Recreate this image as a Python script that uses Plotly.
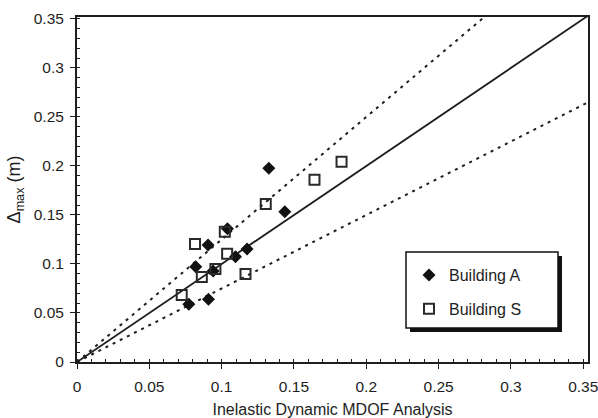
import plotly.graph_objects as go

# ---- data ----
a_x = [0.1326, 0.1437, 0.1040, 0.0906, 0.1176, 0.1096, 0.0821, 0.0941, 0.0909, 0.0773]
a_y = [0.1977, 0.1534, 0.1360, 0.1194, 0.1153, 0.1075, 0.0973, 0.0929, 0.0640, 0.0589]
s_x = [0.1829, 0.1642, 0.1305, 0.1022, 0.0816, 0.1038, 0.0957, 0.0863, 0.1165, 0.0724]
s_y = [0.2044, 0.1860, 0.1612, 0.1330, 0.1204, 0.1105, 0.0949, 0.0867, 0.0898, 0.0684]
series_names = ["Building A", "Building S"]

# reference lines: equality and +/-25 %
line_x = [0.0, 0.36]
ratio_mid, ratio_hi, ratio_lo = 1.0, 1.25, 0.75

x_ticks = [0, 0.05, 0.1, 0.15, 0.2, 0.25, 0.3, 0.35]
x_tick_text = ["0", "0.05", "0.1", "0.15", "0.2", "0.25", "0.3", "0.35"]
y_ticks = x_ticks
y_tick_text = x_tick_text

W, H = 598, 418
# plot frame in page pixels: left 77, right 588, top 17, bottom 362
ML, MT = 77, 17
MR, MB = W - 588, H - 362
PW, PH = W - ML - MR, H - MT - MB

def px_x(p):  # page pixel -> paper
    return (p - ML) / PW

def px_y(p):
    return (H - MB - p) / PH

FONT = "Liberation Sans, Arial, sans-serif"
INK = "#1e1e1e"

fig = go.Figure()

fig.add_trace(go.Scatter(x=line_x, y=[v * ratio_mid for v in line_x], mode="lines",
                         line=dict(color=INK, width=1.8), showlegend=False, hoverinfo="skip"))
fig.add_trace(go.Scatter(x=line_x, y=[v * ratio_hi for v in line_x], mode="lines",
                         line=dict(color=INK, width=2, dash="3px,5px"), showlegend=False, hoverinfo="skip"))
fig.add_trace(go.Scatter(x=line_x, y=[v * ratio_lo for v in line_x], mode="lines",
                         line=dict(color=INK, width=2, dash="3px,5px"), showlegend=False, hoverinfo="skip"))

fig.add_trace(go.Scatter(x=a_x, y=a_y, mode="markers", name=series_names[0], legendgroup="a",
                         marker=dict(symbol="diamond", size=10, color="#111111",
                                     line=dict(width=0))))
fig.add_trace(go.Scatter(x=s_x, y=s_y, mode="markers", name=series_names[1], legendgroup="s",
                         marker=dict(symbol="square-open", size=10, color="#2a2a2a",
                                     line=dict(width=2))))

# legend box with drop shadow
fig.add_shape(type="rect", xref="paper", yref="paper",
              x0=px_x(410), x1=px_x(562), y0=px_y(332), y1=px_y(256),
              fillcolor="#111111", line=dict(width=0), layer="above")
fig.add_shape(type="rect", xref="paper", yref="paper",
              x0=px_x(406), x1=px_x(558), y0=px_y(328), y1=px_y(252),
              fillcolor="white", line=dict(color="#111111", width=1.5), layer="above")

axis_common = dict(
    automargin=False,
    showgrid=False, zeroline=False, showline=True, linecolor=INK, linewidth=2,
    mirror=True, ticks="outside", ticklen=5, tickwidth=1.2, tickcolor=INK,
    tickfont=dict(family=FONT, size=15.5, color=INK),
    ticklabeloverflow="allow",
    minor=dict(dtick=0.01, ticks="inside", ticklen=3, tickwidth=1, tickcolor=INK, showgrid=False),
)

fig.update_xaxes(range=[0, 0.3533], tickvals=x_ticks, ticktext=x_tick_text,
                 ticklabelstandoff=4,
                 title=dict(text="Inelastic Dynamic MDOF Analysis",
                            font=dict(family=FONT, size=16, color=INK), standoff=11),
                 **axis_common)
fig.update_yaxes(range=[0, 0.352], tickvals=y_ticks, ticktext=y_tick_text,
                 ticklabelstandoff=3,
                 title=dict(text="Δ<sub>max</sub> (m)",
                            font=dict(family=FONT, size=18, color=INK), standoff=8),
                 **axis_common)

fig.update_layout(
    width=W, height=H,
    margin=dict(l=ML, r=MR, t=MT, b=MB, autoexpand=False),
    plot_bgcolor="white", paper_bgcolor="white",
    font=dict(family=FONT, color=INK),
    legend=dict(x=px_x(409), y=px_y(258), xanchor="left", yanchor="top",
                bgcolor="rgba(0,0,0,0)", borderwidth=0,
                font=dict(family=FONT, size=16, color=INK),
                traceorder="grouped", tracegroupgap=10),
)

fig.write_html("out.html",
               config={"displayModeBar": False},
               post_script="document.body.style.margin='0';document.body.style.overflow='hidden';")
